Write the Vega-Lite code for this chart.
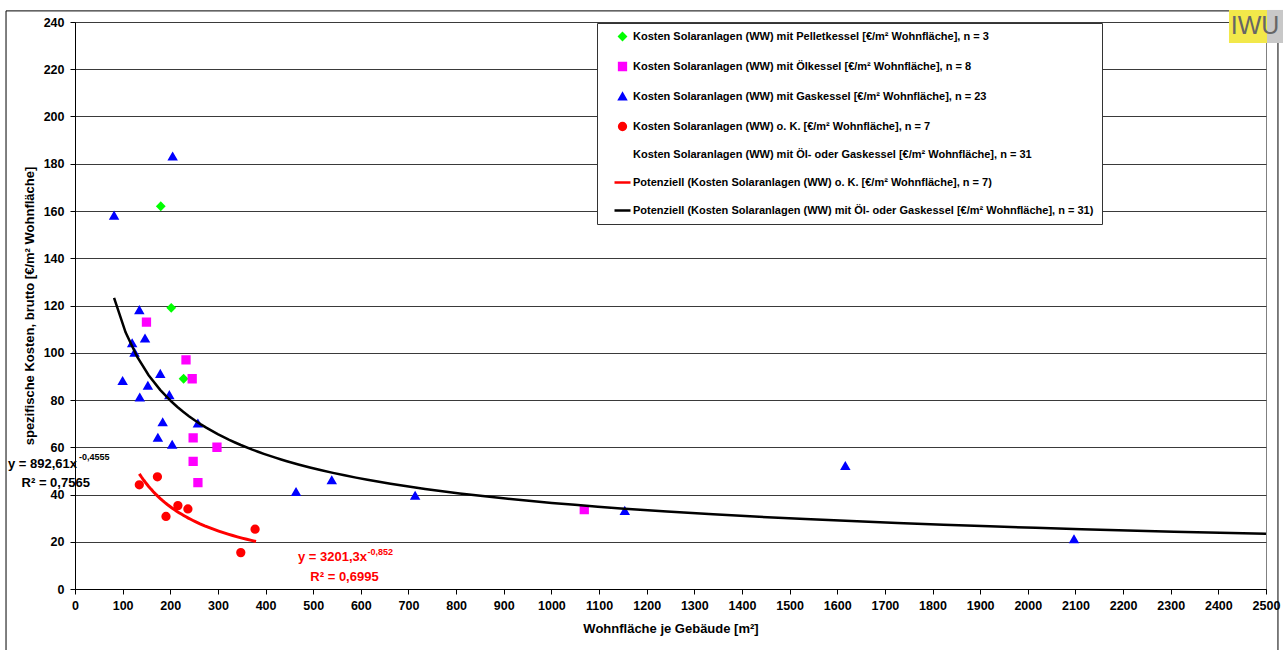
{
  "$schema": "https://vega.github.io/schema/vega-lite/v6.json",
  "width": 1191,
  "height": 567,
  "autosize": {"type": "none"},
  "padding": {"left": 75, "top": 22, "right": 17, "bottom": 61},
  "background": "white",
  "config": {
    "font": "Liberation Sans",
    "view": {"stroke": "#808080", "strokeWidth": 1},
    "axisX": {"labelFont": "Liberation Sans", "labelFontSize": 12.5, "labelFontWeight": "bold", "labelColor": "black", "tickColor": "black", "domainColor": "black", "tickSize": 5, "labelPadding": 5, "titleFont": "Liberation Sans", "titleFontSize": 13, "titleFontWeight": "bold", "titleColor": "black", "titlePadding": 11, "labelFlush": false, "labelOverlap": false, "grid": false},
    "axisY": {"labelFont": "Liberation Sans", "labelFontSize": 12.5, "labelFontWeight": "bold", "labelColor": "black", "tickColor": "black", "domainColor": "black", "tickSize": 5, "labelPadding": 6, "titleFont": "Liberation Sans", "titleFontSize": 13, "titleFontWeight": "bold", "titleColor": "black", "titlePadding": 7, "grid": true, "gridColor": "#3a3a3a", "gridWidth": 1, "gridOpacity": 1},
    "legend": {"title": null, "orient": "none", "legendX": 522, "legendY": 1, "fillColor": "white", "strokeColor": "#333333", "padding": 8, "rowPadding": 13, "symbolOffset": 8, "labelOffset": 1, "symbolStrokeWidth": 2.5, "labelFont": "Liberation Sans", "labelFontSize": 11, "labelFontWeight": "bold", "labelColor": "black", "labelLimit": 1000}
  },
  "resolve": {"axis": {"x": "independent", "y": "independent"}},
  "datasets": {
    "pts": [
      {"series": "Kosten Solaranlagen (WW) mit Pelletkessel [€/m² Wohnfläche], n = 3", "x": 180, "y": 162},
      {"series": "Kosten Solaranlagen (WW) mit Pelletkessel [€/m² Wohnfläche], n = 3", "x": 202, "y": 119},
      {"series": "Kosten Solaranlagen (WW) mit Pelletkessel [€/m² Wohnfläche], n = 3", "x": 228, "y": 89},
      {"series": "Kosten Solaranlagen (WW) mit Ölkessel [€/m² Wohnfläche], n = 8", "x": 150, "y": 113},
      {"series": "Kosten Solaranlagen (WW) mit Ölkessel [€/m² Wohnfläche], n = 8", "x": 233, "y": 97},
      {"series": "Kosten Solaranlagen (WW) mit Ölkessel [€/m² Wohnfläche], n = 8", "x": 246, "y": 89},
      {"series": "Kosten Solaranlagen (WW) mit Ölkessel [€/m² Wohnfläche], n = 8", "x": 248, "y": 64},
      {"series": "Kosten Solaranlagen (WW) mit Ölkessel [€/m² Wohnfläche], n = 8", "x": 298, "y": 60},
      {"series": "Kosten Solaranlagen (WW) mit Ölkessel [€/m² Wohnfläche], n = 8", "x": 248, "y": 54},
      {"series": "Kosten Solaranlagen (WW) mit Ölkessel [€/m² Wohnfläche], n = 8", "x": 258, "y": 45},
      {"series": "Kosten Solaranlagen (WW) mit Ölkessel [€/m² Wohnfläche], n = 8", "x": 1069, "y": 33.6},
      {"series": "Kosten Solaranlagen (WW) mit Gaskessel [€/m² Wohnfläche], n = 23", "x": 82, "y": 158},
      {"series": "Kosten Solaranlagen (WW) mit Gaskessel [€/m² Wohnfläche], n = 23", "x": 205, "y": 183},
      {"series": "Kosten Solaranlagen (WW) mit Gaskessel [€/m² Wohnfläche], n = 23", "x": 135, "y": 118},
      {"series": "Kosten Solaranlagen (WW) mit Gaskessel [€/m² Wohnfläche], n = 23", "x": 120, "y": 104},
      {"series": "Kosten Solaranlagen (WW) mit Gaskessel [€/m² Wohnfläche], n = 23", "x": 125, "y": 100},
      {"series": "Kosten Solaranlagen (WW) mit Gaskessel [€/m² Wohnfläche], n = 23", "x": 147, "y": 106},
      {"series": "Kosten Solaranlagen (WW) mit Gaskessel [€/m² Wohnfläche], n = 23", "x": 100, "y": 88},
      {"series": "Kosten Solaranlagen (WW) mit Gaskessel [€/m² Wohnfläche], n = 23", "x": 153, "y": 86},
      {"series": "Kosten Solaranlagen (WW) mit Gaskessel [€/m² Wohnfläche], n = 23", "x": 179, "y": 91},
      {"series": "Kosten Solaranlagen (WW) mit Gaskessel [€/m² Wohnfläche], n = 23", "x": 136, "y": 81},
      {"series": "Kosten Solaranlagen (WW) mit Gaskessel [€/m² Wohnfläche], n = 23", "x": 198, "y": 82},
      {"series": "Kosten Solaranlagen (WW) mit Gaskessel [€/m² Wohnfläche], n = 23", "x": 184, "y": 70.5},
      {"series": "Kosten Solaranlagen (WW) mit Gaskessel [€/m² Wohnfläche], n = 23", "x": 258, "y": 70},
      {"series": "Kosten Solaranlagen (WW) mit Gaskessel [€/m² Wohnfläche], n = 23", "x": 174, "y": 64},
      {"series": "Kosten Solaranlagen (WW) mit Gaskessel [€/m² Wohnfläche], n = 23", "x": 204, "y": 61},
      {"series": "Kosten Solaranlagen (WW) mit Gaskessel [€/m² Wohnfläche], n = 23", "x": 464, "y": 41},
      {"series": "Kosten Solaranlagen (WW) mit Gaskessel [€/m² Wohnfläche], n = 23", "x": 539, "y": 46},
      {"series": "Kosten Solaranlagen (WW) mit Gaskessel [€/m² Wohnfläche], n = 23", "x": 714, "y": 39.4},
      {"series": "Kosten Solaranlagen (WW) mit Gaskessel [€/m² Wohnfläche], n = 23", "x": 1154, "y": 33},
      {"series": "Kosten Solaranlagen (WW) mit Gaskessel [€/m² Wohnfläche], n = 23", "x": 1617, "y": 52},
      {"series": "Kosten Solaranlagen (WW) mit Gaskessel [€/m² Wohnfläche], n = 23", "x": 2097, "y": 21},
      {"series": "Kosten Solaranlagen (WW) o. K. [€/m² Wohnfläche], n = 7", "x": 135, "y": 44.1},
      {"series": "Kosten Solaranlagen (WW) o. K. [€/m² Wohnfläche], n = 7", "x": 173, "y": 47.5},
      {"series": "Kosten Solaranlagen (WW) o. K. [€/m² Wohnfläche], n = 7", "x": 191, "y": 30.7},
      {"series": "Kosten Solaranlagen (WW) o. K. [€/m² Wohnfläche], n = 7", "x": 216, "y": 35.3},
      {"series": "Kosten Solaranlagen (WW) o. K. [€/m² Wohnfläche], n = 7", "x": 237, "y": 33.9},
      {"series": "Kosten Solaranlagen (WW) o. K. [€/m² Wohnfläche], n = 7", "x": 348, "y": 15.4},
      {"series": "Kosten Solaranlagen (WW) o. K. [€/m² Wohnfläche], n = 7", "x": 378, "y": 25.3}
    ],
    "one": [{}]
  },
  "layer": [
    {
      "data": {"name": "pts"},
      "mark": {"type": "point", "filled": true, "opacity": 1, "strokeWidth": 2.5},
      "encoding": {
        "x": {"field": "x", "type": "quantitative", "scale": {"domain": [0, 2500], "nice": false, "zero": false},
              "axis": {"title": "Wohnfläche je Gebäude [m²]", "orient": "bottom", "format": "d", "values": [0,100,200,300,400,500,600,700,800,900,1000,1100,1200,1300,1400,1500,1600,1700,1800,1900,2000,2100,2200,2300,2400,2500]}},
        "y": {"field": "y", "type": "quantitative", "scale": {"domain": [0, 240], "nice": false, "zero": false},
              "axis": {"title": "spezifische Kosten, brutto [€/m² Wohnfläche]", "orient": "left", "format": "d", "values": [0,20,40,60,80,100,120,140,160,180,200,220,240]}},
        "fill": {"field": "series", "type": "nominal",
          "scale": {
            "domain": [
              "Kosten Solaranlagen (WW) mit Pelletkessel [€/m² Wohnfläche], n = 3",
              "Kosten Solaranlagen (WW) mit Ölkessel [€/m² Wohnfläche], n = 8",
              "Kosten Solaranlagen (WW) mit Gaskessel [€/m² Wohnfläche], n = 23",
              "Kosten Solaranlagen (WW) o. K. [€/m² Wohnfläche], n = 7",
              "Kosten Solaranlagen (WW) mit Öl- oder Gaskessel [€/m² Wohnfläche], n = 31",
              "Potenziell (Kosten Solaranlagen (WW) o. K. [€/m² Wohnfläche], n = 7)",
              "Potenziell (Kosten Solaranlagen (WW) mit Öl- oder Gaskessel [€/m² Wohnfläche], n = 31)"
            ],
            "range": ["#00ff00", "#ff00ff", "#0000ff", "#ff0000", "#ffffff", "#ff0000", "#000000"]
          },
          "legend": {"title": null}
        },
        "stroke": {"field": "series", "type": "nominal",
          "scale": {
            "domain": [
              "Kosten Solaranlagen (WW) mit Pelletkessel [€/m² Wohnfläche], n = 3",
              "Kosten Solaranlagen (WW) mit Ölkessel [€/m² Wohnfläche], n = 8",
              "Kosten Solaranlagen (WW) mit Gaskessel [€/m² Wohnfläche], n = 23",
              "Kosten Solaranlagen (WW) o. K. [€/m² Wohnfläche], n = 7",
              "Kosten Solaranlagen (WW) mit Öl- oder Gaskessel [€/m² Wohnfläche], n = 31",
              "Potenziell (Kosten Solaranlagen (WW) o. K. [€/m² Wohnfläche], n = 7)",
              "Potenziell (Kosten Solaranlagen (WW) mit Öl- oder Gaskessel [€/m² Wohnfläche], n = 31)"
            ],
            "range": ["#00ff00", "#ff00ff", "#0000ff", "#ff0000", "#ffffff", "#ff0000", "#000000"]
          },
          "legend": {"title": null}
        },
        "shape": {"field": "series", "type": "nominal",
          "scale": {
            "domain": [
              "Kosten Solaranlagen (WW) mit Pelletkessel [€/m² Wohnfläche], n = 3",
              "Kosten Solaranlagen (WW) mit Ölkessel [€/m² Wohnfläche], n = 8",
              "Kosten Solaranlagen (WW) mit Gaskessel [€/m² Wohnfläche], n = 23",
              "Kosten Solaranlagen (WW) o. K. [€/m² Wohnfläche], n = 7",
              "Kosten Solaranlagen (WW) mit Öl- oder Gaskessel [€/m² Wohnfläche], n = 31",
              "Potenziell (Kosten Solaranlagen (WW) o. K. [€/m² Wohnfläche], n = 7)",
              "Potenziell (Kosten Solaranlagen (WW) mit Öl- oder Gaskessel [€/m² Wohnfläche], n = 31)"
            ],
            "range": ["diamond", "square", "triangle-up", "circle", "circle", "stroke", "stroke"]
          },
          "legend": {"title": null}
        },
        "size": {"field": "series", "type": "nominal",
          "scale": {
            "type": "ordinal",
            "domain": [
              "Kosten Solaranlagen (WW) mit Pelletkessel [€/m² Wohnfläche], n = 3",
              "Kosten Solaranlagen (WW) mit Ölkessel [€/m² Wohnfläche], n = 8",
              "Kosten Solaranlagen (WW) mit Gaskessel [€/m² Wohnfläche], n = 23",
              "Kosten Solaranlagen (WW) o. K. [€/m² Wohnfläche], n = 7",
              "Kosten Solaranlagen (WW) mit Öl- oder Gaskessel [€/m² Wohnfläche], n = 31",
              "Potenziell (Kosten Solaranlagen (WW) o. K. [€/m² Wohnfläche], n = 7)",
              "Potenziell (Kosten Solaranlagen (WW) mit Öl- oder Gaskessel [€/m² Wohnfläche], n = 31)"
            ],
            "range": [40, 46, 38, 46, 0, 256, 256]
          },
          "legend": {"title": null}
        }
      }
    },
    {
      "data": {"name": "pts"},
      "transform": [
        {"filter": {"field": "series", "oneOf": ["Kosten Solaranlagen (WW) mit Ölkessel [€/m² Wohnfläche], n = 8", "Kosten Solaranlagen (WW) mit Gaskessel [€/m² Wohnfläche], n = 23"]}},
        {"regression": "y", "on": "x", "method": "pow", "extent": [82, 2500]}
      ],
      "mark": {"type": "line", "strokeWidth": 2.5, "color": "#000000", "clip": true},
      "encoding": {
        "x": {"field": "x", "type": "quantitative", "axis": null},
        "y": {"field": "y", "type": "quantitative", "axis": null}
      }
    },
    {
      "data": {"name": "pts"},
      "transform": [
        {"filter": {"field": "series", "equal": "Kosten Solaranlagen (WW) o. K. [€/m² Wohnfläche], n = 7"}},
        {"regression": "y", "on": "x", "method": "pow", "extent": [135, 380]}
      ],
      "mark": {"type": "line", "strokeWidth": 3, "color": "#ff0000", "clip": true},
      "encoding": {
        "x": {"field": "x", "type": "quantitative", "axis": null},
        "y": {"field": "y", "type": "quantitative", "axis": null}
      }
    },
    {
      "data": {"name": "one"},
      "mark": {"type": "text", "text": "y = 892,61x", "align": "right", "baseline": "middle", "font": "Liberation Sans", "fontSize": 13, "fontWeight": "bold", "color": "black"},
      "encoding": {"x": {"datum": 4.2, "type": "quantitative", "axis": null}, "y": {"datum": 52.9, "type": "quantitative", "axis": null}}
    },
    {
      "data": {"name": "one"},
      "mark": {"type": "text", "text": "-0,4555", "align": "left", "baseline": "middle", "font": "Liberation Sans", "fontSize": 9, "fontWeight": "bold", "color": "black"},
      "encoding": {"x": {"datum": 8.4, "type": "quantitative", "axis": null}, "y": {"datum": 55.9, "type": "quantitative", "axis": null}}
    },
    {
      "data": {"name": "one"},
      "mark": {"type": "text", "text": "R² = 0,7565", "align": "center", "baseline": "middle", "font": "Liberation Sans", "fontSize": 13, "fontWeight": "bold", "color": "black"},
      "encoding": {"x": {"datum": -40.5, "type": "quantitative", "axis": null}, "y": {"datum": 44.9, "type": "quantitative", "axis": null}}
    },
    {
      "data": {"name": "one"},
      "mark": {"type": "text", "text": "y = 3201,3x", "align": "right", "baseline": "middle", "font": "Liberation Sans", "fontSize": 13, "fontWeight": "bold", "color": "#ff0000"},
      "encoding": {"x": {"datum": 612.9, "type": "quantitative", "axis": null}, "y": {"datum": 13.55, "type": "quantitative", "axis": null}}
    },
    {
      "data": {"name": "one"},
      "mark": {"type": "text", "text": "-0,852", "align": "left", "baseline": "middle", "font": "Liberation Sans", "fontSize": 9, "fontWeight": "bold", "color": "#ff0000"},
      "encoding": {"x": {"datum": 614, "type": "quantitative", "axis": null}, "y": {"datum": 15.67, "type": "quantitative", "axis": null}}
    },
    {
      "data": {"name": "one"},
      "mark": {"type": "text", "text": "R² = 0,6995", "align": "center", "baseline": "middle", "font": "Liberation Sans", "fontSize": 13, "fontWeight": "bold", "color": "#ff0000"},
      "encoding": {"x": {"datum": 565.7, "type": "quantitative", "axis": null}, "y": {"datum": 5.08, "type": "quantitative", "axis": null}}
    },
    {
      "data": {"name": "one"},
      "mark": {"type": "rect", "filled": false, "stroke": "#000000", "strokeWidth": 1, "clip": false},
      "encoding": {"x": {"datum": -144.8, "type": "quantitative", "axis": null}, "x2": {"datum": 2525.1}, "y": {"datum": 244.7, "type": "quantitative", "axis": null}, "y2": {"datum": -40}}
    },
    {
      "data": {"name": "one"},
      "mark": {"type": "rect", "color": "#f2e84a", "clip": false},
      "encoding": {"x": {"datum": 2422.3, "type": "quantitative", "axis": null}, "x2": {"datum": 2502.1}, "y": {"datum": 245.1, "type": "quantitative", "axis": null}, "y2": {"datum": 231.1}}
    },
    {
      "data": {"name": "one"},
      "mark": {"type": "rect", "color": "#c8c8c8", "clip": false},
      "encoding": {"x": {"datum": 2502.1, "type": "quantitative", "axis": null}, "x2": {"datum": 2540}, "y": {"datum": 245.1, "type": "quantitative", "axis": null}, "y2": {"datum": 231.1}}
    },
    {
      "data": {"name": "one"},
      "mark": {"type": "text", "text": "IWU", "align": "center", "baseline": "middle", "font": "Liberation Sans", "fontSize": 25, "color": "#666666"},
      "encoding": {"x": {"datum": 2476.9, "type": "quantitative", "axis": null}, "y": {"datum": 238.3, "type": "quantitative", "axis": null}}
    }
  ]
}
